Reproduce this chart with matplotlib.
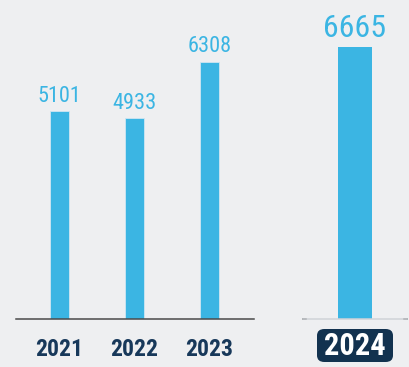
import matplotlib
matplotlib.use("Agg")
import matplotlib.pyplot as plt
from matplotlib import font_manager
from matplotlib.patches import FancyBboxPatch

years = ["2021", "2022", "2023"]
values = [5101, 4933, 6308]
last_year = "2024"
last_value = 6665

BG = "#eeeff1"
BLUE = "#3bb5e3"
NAVY = "#17385a"
DARK = "#12324f"

# prefer a condensed face when one is installed
installed = {f.name for f in font_manager.fontManager.ttflist}
narrow = [n for n in ("Roboto Condensed", "Liberation Sans Narrow", "Open Sans Condensed",
                      "DejaVu Sans Condensed") if n in installed]
FONT = narrow[:1] + ["Roboto", "DejaVu Sans"]

W, H = 409, 367
fig = plt.figure(figsize=(W / 100, H / 100), dpi=100, facecolor=BG)

ymax = 319 / 0.0408  # keeps the baseline at the same pixel row in both panels


def px_axes(x0, x1, y_top, y_bot):
    ax = fig.add_axes([x0 / W, 1 - y_bot / H, (x1 - x0) / W, (y_bot - y_top) / H])
    ax.set_facecolor(BG)
    for s in ("top", "right", "left"):
        ax.spines[s].set_visible(False)
    ax.set_yticks([])
    ax.set_ylim(0, ymax)
    ax.tick_params(axis="x", length=0)
    return ax


# history panel
ax = px_axes(16, 254, 0, 319)
xs = range(len(years))
ax.bar(xs, values, width=0.253, color=BLUE, edgecolor="#cfe6f2", linewidth=0.6)
ax.set_xlim(-0.58, 2.593)
ax.spines["bottom"].set_color("#4a4a4a")
ax.spines["bottom"].set_linewidth(1.1)
ax.set_xticks(list(xs))
ax.set_xticklabels(years, family=FONT, fontsize=17, fontweight="bold", color=NAVY,
                   fontstretch="condensed")
ax.tick_params(axis="x", pad=14)
for x, v in zip(xs, values):
    ax.annotate(str(v), (x, v), xytext=(0, 3), textcoords="offset points",
                ha="center", va="bottom", family=FONT, fontsize=16, color=BLUE,
                fontstretch="condensed")

# current year panel
ax2 = px_axes(303, 407, 0, 319)
ax2.bar([0], [last_value], width=0.327, color=BLUE)
ax2.set_xlim(-0.5, 0.5)
ax2.spines["bottom"].set_color("#cfd3d8")
ax2.spines["bottom"].set_linewidth(1.1)
ax2.axhline(0, xmin=0, xmax=0.03, color="#4a4a4a", lw=1.1, clip_on=False)
ax2.axhline(0, xmin=0.97, xmax=1, color="#4a4a4a", lw=1.1, clip_on=False)
ax2.set_xticks([])
ax2.annotate(str(last_value), (0, last_value), xytext=(0, 3), textcoords="offset points",
             ha="center", va="bottom", family=FONT, fontsize=23, color=BLUE,
             fontstretch="condensed")

# highlighted year badge
badge = FancyBboxPatch((317 / W, 1 - 362 / H), 76 / W, 33 / H,
                       boxstyle="round,pad=0,rounding_size=0.018",
                       transform=fig.transFigure, facecolor=DARK, edgecolor="none")
fig.patches.append(badge)
fig.text(355 / W, 1 - 346 / H, last_year, ha="center", va="center", family=FONT,
         fontsize=22, fontweight="bold", color="white", fontstretch="condensed")

fig.savefig("out.png", dpi=100, facecolor=BG)
